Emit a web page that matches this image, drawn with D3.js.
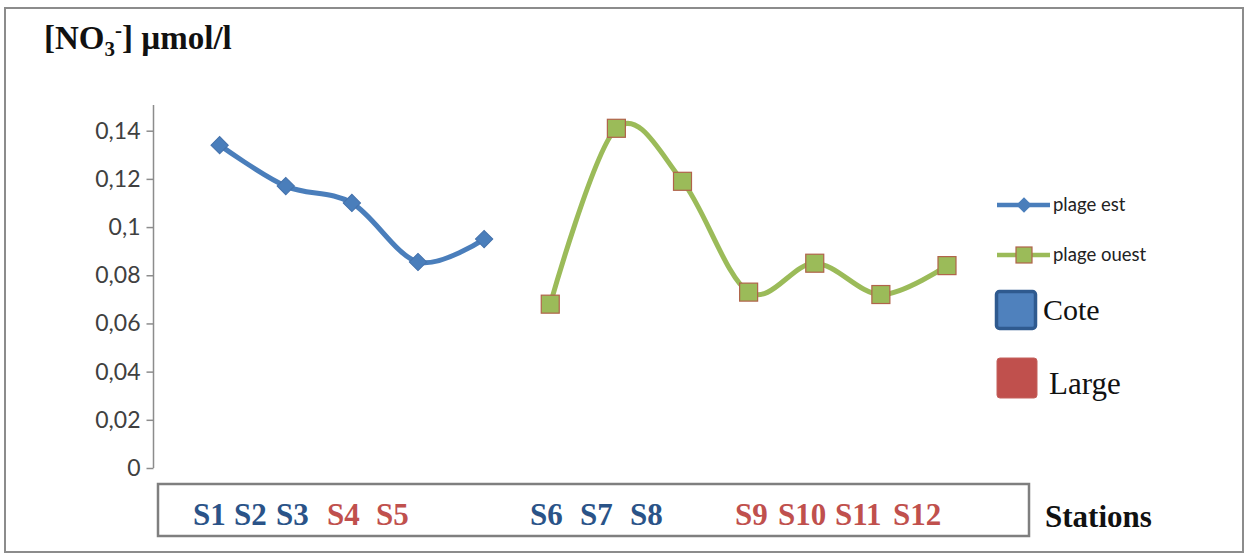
<!DOCTYPE html>
<html>
<head>
<meta charset="utf-8">
<script src="https://cdn.jsdelivr.net/npm/d3@7/dist/d3.min.js"></script>
<style>
  html, body { margin: 0; padding: 0; background: #fff; }
  svg { display: block; }
</style>
</head>
<body>
<svg id="chart" width="1248" height="558"></svg>
<script>
// ---- Data ----
const stations = ["S1","S2","S3","S4","S5","S6","S7","S8","S9","S10","S11","S12"];
const stationGroup = ["Cote","Cote","Cote","Large","Large","Cote","Cote","Cote","Large","Large","Large","Large"];
const plageEstStations = ["S1","S2","S3","S4","S5"];
const plageEstValues = [0.134, 0.117, 0.110, 0.0855, 0.095];
const plageOuestStations = ["S6","S7","S8","S9","S10","S11","S12"];
const plageOuestValues = [0.068, 0.141, 0.119, 0.073, 0.085, 0.072, 0.084];
const yTicks = [0, 0.02, 0.04, 0.06, 0.08, 0.1, 0.12, 0.14];
const seriesNames = ["plage est", "plage ouest"];
const groupNames = ["Cote", "Large"];

// ---- Layout (not data) ----
const stationLabelX = [193, 234, 276, 327, 376, 530, 580, 630, 735, 778, 835, 893];
const colors = { est: "#4A7EBB", ouest: "#9BBB59", Cote: "#2A5388", Large: "#C0504D" };
const serif = "'Liberation Serif', 'Times New Roman', serif";

const svg = d3.select("#chart");

// outer frame
svg.append("rect").attr("x", 5).attr("y", 8).attr("width", 1238).attr("height", 544)
  .attr("fill", "none").attr("stroke", "#8c8c8c").attr("stroke-width", 2);

// scales
const x = d3.scaleLinear().domain([0, 12]).range([153.5, 947]);
const y = d3.scaleLinear().domain([0, 0.14]).range([468, 130.7]);
const idx = s => stations.indexOf(s) + 1;

// y axis
const yAxis = d3.axisLeft(y).tickValues(yTicks).tickSize(7).tickPadding(6)
  .tickFormat(d => d === 0 ? "0" : String(+d.toFixed(2)).replace(".", ","));
const gy = svg.append("g").attr("transform", "translate(153.5,0)").call(yAxis);
gy.select(".domain").remove();
gy.append("line").attr("x1", 0).attr("x2", 0).attr("y1", 105).attr("y2", y(0))
  .attr("stroke", "#8c8c8c").attr("stroke-width", 1.5);
gy.selectAll(".tick line").attr("stroke", "#8c8c8c").attr("stroke-width", 1.5);
gy.selectAll(".tick text").attr("fill", "#404040")
  .style("font-family", "Lato, 'Open Sans', sans-serif").style("font-size", "23px");

// lines
const line = d3.line().x(d => x(idx(d.s))).y(d => y(d.v)).curve(d3.curveCatmullRom.alpha(0));
const estData = plageEstStations.map((s, i) => ({ s, v: plageEstValues[i] }));
const ouestData = plageOuestStations.map((s, i) => ({ s, v: plageOuestValues[i] }));

svg.append("path").datum(estData).attr("d", line).attr("fill", "none")
  .attr("stroke", colors.est).attr("stroke-width", 5).attr("stroke-linejoin", "round");
svg.append("path").datum(ouestData).attr("d", line).attr("fill", "none")
  .attr("stroke", colors.ouest).attr("stroke-width", 5).attr("stroke-linejoin", "round");

const diamond = d3.symbol().type(d3.symbolSquare).size(150);
svg.selectAll(".est-pt").data(estData).join("path").attr("class", "est-pt")
  .attr("d", diamond())
  .attr("transform", d => `translate(${x(idx(d.s))},${y(d.v)}) rotate(45)`)
  .attr("fill", colors.est).attr("stroke", "#4572AC").attr("stroke-width", 1);

const sq = 18;
svg.selectAll(".ouest-pt").data(ouestData).join("rect").attr("class", "ouest-pt")
  .attr("x", d => x(idx(d.s)) - sq / 2).attr("y", d => y(d.v) - sq / 2)
  .attr("width", sq).attr("height", sq)
  .attr("fill", colors.ouest).attr("stroke", "#B0634A").attr("stroke-width", 1.2);

// stations box
svg.append("rect").attr("x", 158).attr("y", 484).attr("width", 871).attr("height", 52)
  .attr("fill", "#fff").attr("stroke", "#7f7f7f").attr("stroke-width", 2.5);
svg.selectAll(".st-label").data(stations).join("text").attr("class", "st-label")
  .attr("x", (d, i) => stationLabelX[i]).attr("y", 525)
  .attr("fill", (d, i) => stationGroup[i] === "Cote" ? colors.Cote : colors.Large)
  .style("font-family", serif).style("font-weight", "bold").style("font-size", "31px")
  .text(d => d);

svg.append("text").attr("x", 1045).attr("y", 527)
  .style("font-family", serif).style("font-weight", "bold").style("font-size", "31px").attr("fill", "#111")
  .text("Stations");

// title
const title = svg.append("text").attr("x", 44).attr("y", 49)
  .style("font-family", serif).style("font-weight", "bold").style("font-size", "33px").attr("fill", "#111");
title.append("tspan").text("[NO");
title.append("tspan").attr("dy", 7).style("font-size", "21px").text("3");
title.append("tspan").attr("dy", -19).style("font-size", "21px").text("-");
title.append("tspan").attr("dy", 12).text("] µmol/l");

// legend
const leg = svg.append("g");
const legLines = [
  { name: seriesNames[0], y: 205, color: colors.est, marker: "diamond" },
  { name: seriesNames[1], y: 255, color: colors.ouest, marker: "square" }
];
legLines.forEach(l => {
  leg.append("line").attr("x1", 997).attr("x2", 1050).attr("y1", l.y).attr("y2", l.y)
    .attr("stroke", l.color).attr("stroke-width", 4.5);
  if (l.marker === "diamond") {
    leg.append("path").attr("d", d3.symbol().type(d3.symbolSquare).size(120)())
      .attr("transform", `translate(1024,${l.y}) rotate(45)`).attr("fill", l.color);
  } else {
    leg.append("rect").attr("x", 1024 - 8).attr("y", l.y - 8).attr("width", 16).attr("height", 16)
      .attr("fill", l.color).attr("stroke", "#B0634A").attr("stroke-width", 1.2);
  }
  leg.append("text").attr("x", 1053).attr("y", l.y + 6).attr("fill", "#222")
    .style("font-family", "Lato, 'Open Sans', sans-serif").style("font-size", "18.5px").text(l.name);
});
leg.append("rect").attr("x", 996.5).attr("y", 291.5).attr("width", 39).attr("height", 37).attr("rx", 3)
  .attr("fill", "#4F81BD").attr("stroke", "#2F5A8F").attr("stroke-width", 3.5);
leg.append("text").attr("x", 1043).attr("y", 320).attr("fill", "#111")
  .style("font-family", serif).style("font-size", "30px")
  .text(groupNames[0]);
leg.append("rect").attr("x", 997).attr("y", 358).attr("width", 40).attr("height", 40).attr("rx", 3)
  .attr("fill", "#C0504D").attr("stroke", "#C4605C").attr("stroke-width", 1);
leg.append("text").attr("x", 1049).attr("y", 394).attr("fill", "#111")
  .style("font-family", serif).style("font-size", "31px")
  .text(groupNames[1]);
</script>
</body>
</html>
